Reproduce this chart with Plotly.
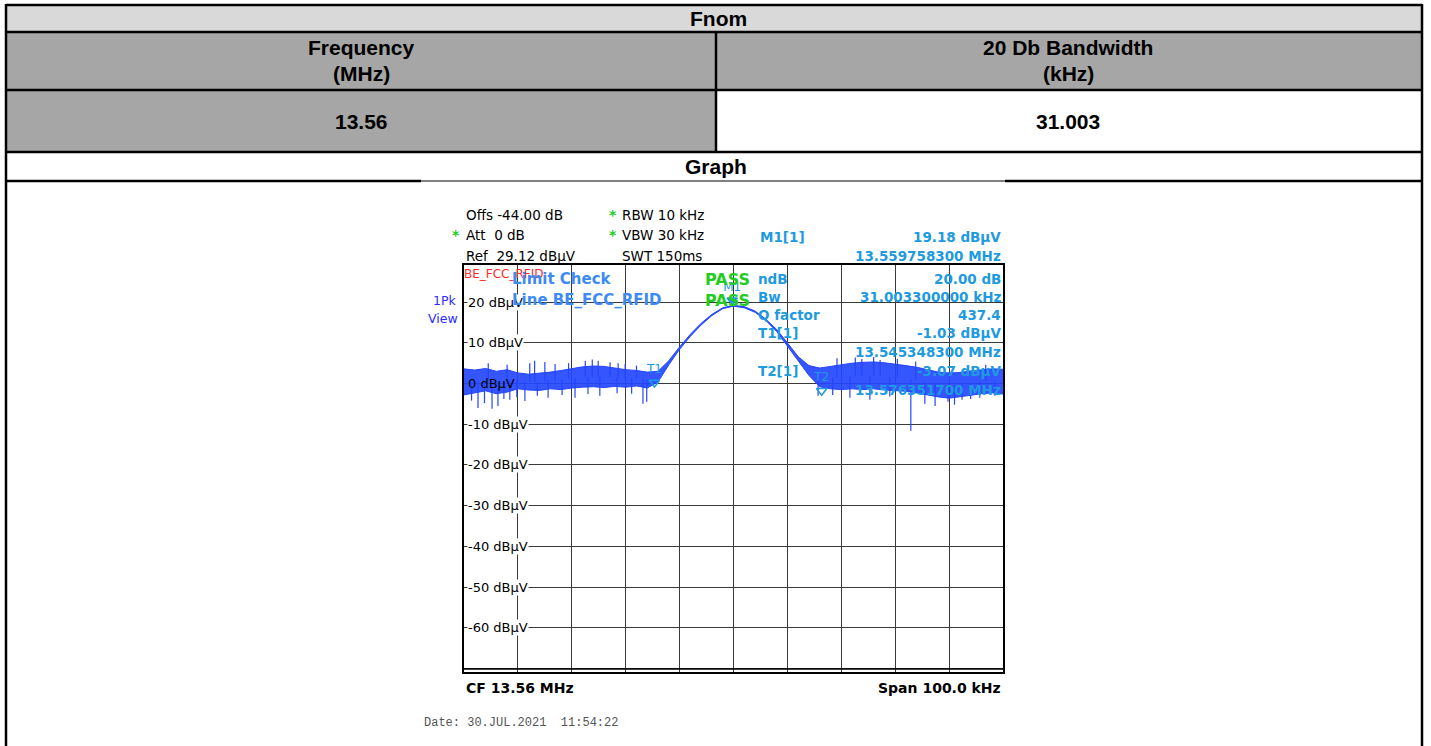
import plotly.graph_objects as go
import numpy as np

W, H = 1431, 746

# ---------------- data ----------------
table_head = "Fnom"
col_titles = [["Frequency", "(MHz)"], ["20 Db Bandwidth", "(kHz)"]]
col_values = ["13.56", "31.003"]
graph_title = "Graph"

center_mhz = 13.56
span_khz = 100.0
ref_level = 29.12
y_ticks = [20, 10, 0, -10, -20, -30, -40, -50, -60]

# envelope of the noisy trace (offset from CF in kHz, dBuV)
env_offset_khz = [-50, -48, -46, -44, -42, -40, -38, -36, -34, -32, -30, -28, -26, -24, -22, -20,
                  -18, -16, -14, -12, -10, -8, -6, -4, -2, 0, 2, 4, 6, 8, 10, 12, 14, 16, 18, 20,
                  22, 24, 26, 28, 30, 32, 34, 36, 38, 40, 42, 44, 46, 48, 50]
env_upper = [3.6, 3.3, 3.7, 3.0, 3.4, 2.6, 2.3, 2.5, 2.8, 3.2, 3.6, 4.1, 4.3, 4.2, 3.8, 3.4,
             3.2, 2.8, 3.0, 5.6, 9.0, 12.1, 14.8, 17.0, 18.6, 19.2, 18.9, 17.8, 15.8, 13.3, 10.0,
             6.6, 4.4, 3.8, 4.2, 4.6, 5.0, 5.2, 5.3, 5.1, 4.8, 4.4, 4.0, 3.4, 2.8, 2.6, 2.7, 3.1,
             3.4, 3.6, 3.5]
env_lower = [-2.8, -2.3, -1.8, -2.5, -2.1, -1.3, -1.6, -1.7, -1.3, -1.5, -1.1, -0.9, -0.8, -1.0,
             -0.7, -0.9, -0.6, -1.1, 0.4, 4.6, 8.4, 11.6, 14.4, 16.7, 18.4, 19.0, 18.6, 17.5, 15.5,
             12.8, 9.2, 5.4, 2.0, -0.8, -1.3, -1.5, -1.3, -1.5, -1.3, -1.6, -1.8, -1.9, -2.3, -2.8,
             -3.3, -3.6, -3.3, -2.9, -2.5, -2.3, -2.6]

# individual spikes of the trace (offset kHz, level dBuV)
spike_offset_khz = [-48.6, -47.4, -46.2, -44.8, -43.7, -42.6, -41.5, -40.2, -38.7, -36.4, -34.4,
                    -31.8, -29.4, -27.0, -24.8, -21.6, -18.9, -16.8, -16.1,
                    15.7, 18.4, 21.6, 25.3, 29.0, 32.9, 35.5, 37.4, 39.8, 41.0, 42.4, 44.0, 45.7,
                    48.5,
                    -45.5, -42.0, -37.8, -36.9, -35.0, -33.1, -30.6, -27.5, -26.2, -25.1, -22.9,
                    -21.4, -20.1, -18.0, 19.2, 22.6, 23.8, 26.0, 27.2, 30.4, 33.8, 46.8]
spike_level = [-4.2, -6.0, -4.8, -6.2, -5.5, -3.8, -4.0, -3.4, -4.3, -3.0, -3.5,
               -2.8, -3.5, -2.6, -3.0, -2.4, -2.5, -5.0, -4.5,
               -3.0, -2.8, -3.5, -4.0, -3.2, -11.6, -5.0, -5.5, -4.5, -5.2, -4.0, -3.8, -3.5,
               -3.0,
               5.0, 4.6, 5.0, 5.6, 5.3, 4.8, 5.0, 5.6, 5.9, 5.6, 5.2,
               5.0, 4.8, 4.4, 6.2, 6.4, 6.0, 6.5, 5.8, 6.0, 5.4, 4.6]

marker_names = ["M1", "T1", "T2"]
marker_freq_mhz = [13.5597583, 13.5453483, 13.5763517]
marker_level = [19.18, -1.03, -3.07]

header_left = [("Offs", "-44.00 dB", False), ("Att", " 0 dB", True), ("Ref", " 29.12 dBµV", False)]
header_mid = [("RBW 10 kHz", True), ("VBW 30 kHz", True), ("SWT 150ms", False)]
marker_table = [("M1[1]", "19.18 dBµV"), ("", "13.559758300 MHz"), ("ndB", "20.00 dB"),
                ("Bw", "31.003300000 kHz"), ("Q factor", "437.4"), ("T1[1]", "-1.03 dBµV"),
                ("", "13.545348300 MHz"), ("T2[1]", "-3.07 dBµV"), ("", "13.576351700 MHz")]

# ---------------- helpers ----------------
def X(px):
    return px / W

def Y(py):
    return 1 - py / H

freq_env = [center_mhz + o / 1000 for o in env_offset_khz]
spike_f = [center_mhz + o / 1000 for o in spike_offset_khz]
mid_env = [(u + l) / 2 for u, l in zip(env_upper, env_lower)]
spike_base = np.interp(spike_offset_khz, env_offset_khz, mid_env)

fig = go.Figure()

TRACE = "#2446ff"
fig.add_trace(go.Scatter(x=freq_env, y=env_upper, mode="lines",
                         line=dict(color=TRACE, width=1), hoverinfo="skip", showlegend=False))
fig.add_trace(go.Scatter(x=freq_env, y=env_lower, mode="lines", fill="tonexty",
                         fillcolor="rgba(36,70,255,0.92)",
                         line=dict(color=TRACE, width=1), hoverinfo="skip", showlegend=False))
sx, sy = [], []
for f, lv, b in zip(spike_f, spike_level, spike_base):
    sx += [f, f, None]
    sy += [b, lv, None]
fig.add_trace(go.Scatter(x=sx, y=sy, mode="lines", line=dict(color=TRACE, width=1.2),
                         hoverinfo="skip", showlegend=False))

MK = "#1e9ae0"
fig.add_trace(go.Scatter(x=marker_freq_mhz, y=[v + 1.3 for v in marker_level], mode="markers+text",
                         text=marker_names, textposition="top center",
                         textfont=dict(family="DejaVu Sans", size=12, color=MK),
                         marker=dict(symbol=["triangle-down", "triangle-down-open", "triangle-down-open"],
                                     size=9, color=MK, line=dict(color=MK, width=1.5)),
                         hoverinfo="skip", showlegend=False))

x0d, x1d = X(464), X(1003)
y0d, y1d = Y(672), Y(265)

fig.update_layout(
    width=W, height=H, margin=dict(l=0, r=0, t=0, b=0),
    paper_bgcolor="white", plot_bgcolor="white",
    xaxis=dict(domain=[x0d, x1d], range=[center_mhz - span_khz / 2000, center_mhz + span_khz / 2000],
               tick0=center_mhz - span_khz / 2000, dtick=span_khz / 10000,
               showgrid=True, gridcolor="#3a3a3a", gridwidth=1, showticklabels=False, ticks="",
               zeroline=False, showline=True, linecolor="black", linewidth=2, mirror=True),
    yaxis=dict(domain=[y0d, y1d], range=[ref_level - 100, ref_level],
               tick0=0, dtick=10, showgrid=True, gridcolor="#3a3a3a", gridwidth=1,
               showticklabels=False, ticks="", zeroline=False,
               showline=True, linecolor="black", linewidth=2, mirror=True),
)

shapes = []
def rect(x0, y0, x1, y1, fill):
    shapes.append(dict(type="rect", xref="paper", yref="paper", x0=X(x0), x1=X(x1),
                       y0=Y(y0), y1=Y(y1), fillcolor=fill, line=dict(width=0), layer="below"))

def line(x0, y0, x1, y1, w=2.5, color="black"):
    shapes.append(dict(type="line", xref="paper", yref="paper", x0=X(x0), x1=X(x1),
                       y0=Y(y0), y1=Y(y1), line=dict(color=color, width=w)))

rect(6, 5, 1422, 32, "#d9d9d9")
rect(6, 32, 1422, 90, "#a6a6a6")
rect(6, 90, 716, 152, "#a6a6a6")
line(6, 5, 1422, 5)
line(6, 32, 1422, 32)
line(6, 90, 1422, 90)
line(6, 152, 1422, 152)
line(6, 181, 421, 181)
line(421, 181, 1005, 181, w=1)
line(1005, 181, 1422, 181)
line(716, 32, 716, 152)
line(6, 4, 6, 746)
line(1422, 4, 1422, 746)
# double bottom line of the analyzer frame
line(464, 669, 1003, 669, w=1.5)

fig.update_layout(shapes=shapes)

ann = []
def txt(px, py, s, size=13, color="black", family="DejaVu Sans", bold=False, anchor="left",
        bg=None):
    if bold:
        s = "<b>" + s + "</b>"
    shift = {"left": -2, "right": 2, "center": 0}[anchor]
    d = dict(x=X(px + shift), y=Y(py), xref="paper", yref="paper", text=s, showarrow=False,
             xanchor=anchor, yanchor="middle",
             font=dict(family=family, size=size, color=color))
    if bg:
        d["bgcolor"] = bg
        d["borderpad"] = 0
    ann.append(d)

# y-axis level labels first (so the overlay texts sit above them)
for v in y_ticks:
    ann.append(dict(x=X(467), xref="paper", y=v, yref="y", text=f"{v} dBµV", showarrow=False,
                    xanchor="left", yanchor="middle",
                    font=dict(family="DejaVu Sans", size=13, color="black"),
                    bgcolor=None if v == 0 else "white", borderpad=0))

TF = "Liberation Sans"
TS = 21
txt(718, 18, table_head, TS, family=TF, bold=True, anchor="center")
for cx, (a, b) in zip([361, 1068], col_titles):
    txt(cx, 47, a, TS, family=TF, bold=True, anchor="center")
    txt(cx, 74, b, TS, family=TF, bold=True, anchor="center")
for cx, v in zip([361, 1068], col_values):
    txt(cx, 121, v, TS, family=TF, bold=True, anchor="center")
txt(716, 166, graph_title, TS, family=TF, bold=True, anchor="center")

GREEN = "#22cc22"
for i, (a, b, star) in enumerate(header_left):
    yy = 215 + i * 20.5
    txt(466, yy, a + " " + b, 13.5)
    if star:
        txt(452, yy, "*", 14, color=GREEN, bold=True)
for i, (a, star) in enumerate(header_mid):
    yy = 215 + i * 20.5
    txt(622, yy, a, 13.5)
    if star:
        txt(609, yy, "*", 14, color=GREEN, bold=True)

for i, (a, b) in enumerate(marker_table):
    yy = [237, 256, 279, 297, 315, 333, 352, 371, 390][i]
    lx = 760 if i < 2 else 758
    if a:
        txt(lx, yy, a, 13.5, color=MK, bold=True)
    txt(1001, yy, b, 13.5, color=MK, bold=True, anchor="right")

txt(464, 274, "BE_FCC_RFID", 12, color="#ff2a2a")
LB = "#3d8af5"
txt(512, 279, "Limit Check", 15, color=LB, bold=True)
txt(512, 300, "Line BE_FCC_RFID", 15, color=LB, bold=True)
txt(705, 279, "PASS", 16, color=GREEN, bold=True)
txt(705, 300, "PASS", 16, color=GREEN, bold=True)
txt(444, 300, "1Pk", 12.5, color="#2a2aff", anchor="center")
txt(443, 318, "View", 12.5, color="#2a2aff", anchor="center")

txt(466, 688, "CF 13.56 MHz", 14, bold=True)
txt(1001, 688, "Span 100.0 kHz", 14, bold=True, anchor="right")
txt(424, 723, "Date: 30.JUL.2021  11:54:22", 12, color="#555555", family="Liberation Mono")

fig.update_layout(annotations=ann)
fig.write_html("out.html", config={"displayModeBar": False},
               post_script="document.body.style.margin='0px';")
